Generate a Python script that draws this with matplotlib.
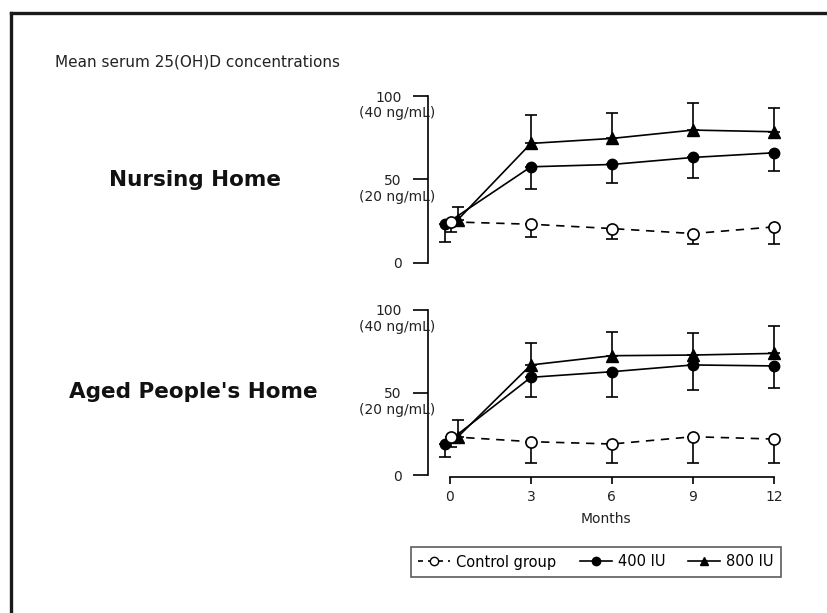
import numpy as np
import matplotlib
matplotlib.use("Agg")
import matplotlib.pyplot as plt
from matplotlib.lines import Line2D

plt.rcParams["font.family"] = ["DejaVu Sans"]

# ---- data -------------------------------------------------------------
months = [0, 3, 6, 9, 12]
month_ticks = [0, 3, 6, 9, 12]
y_ticks = [0, 50, 100]
y_ticklabels = ["0", "50", "100"]
ng_ticks = [50, 100]
ng_labels = ["(20 ng/mL)", "(40 ng/mL)"]

series_names = ["Control group", "400 IU", "800 IU"]

# Nursing Home
nh_control = [24.6, 23.2, 20.6, 17.6, 21.6]
nh_control_err = [6.0, 7.6, 6.0, 6.4, 10.0]
nh_400 = [23.2, 57.6, 59.0, 63.2, 66.0]
nh_400_err = [10.6, 13.0, 11.4, 12.6, 10.8]
nh_800 = [26.0, 71.6, 74.6, 79.6, 78.6]
nh_800_err = [7.6, 17.0, 15.0, 16.4, 14.0]

# Aged People's Home
ap_control = [23.2, 20.2, 18.8, 23.2, 21.8]
ap_control_err = [6.0, 12.7, 11.3, 15.7, 14.7]
ap_400 = [18.8, 59.2, 62.6, 66.7, 66.1]
ap_400_err = [7.7, 11.7, 15.1, 15.2, 13.6]
ap_800 = [23.2, 66.7, 72.3, 72.7, 73.7]
ap_800_err = [10.1, 13.1, 14.2, 13.2, 16.6]

panel_titles = ["Nursing Home", "Aged People's Home"]

# small horizontal shift of the baseline points so they don't sit on top of each other
baseline_shift = {"Control group": 0.05, "400 IU": -0.17, "800 IU": 0.3}

W, H = 827, 613
fig = plt.figure(figsize=(W / 100, H / 100), dpi=100)

# outer frame (left and top edges)
fig.add_artist(Line2D([10.5 / W, 10.5 / W], [-0.05, 1 - 13 / H], color="#1a1a1a",
                      lw=2.4, transform=fig.transFigure))
fig.add_artist(Line2D([10.5 / W, 1.05], [1 - 13 / H, 1 - 13 / H], color="#1a1a1a",
                      lw=2.4, transform=fig.transFigure))

fig.text(55 / W, 1 - 62 / H, "Mean serum 25(OH)D concentrations", fontsize=11,
         ha="left", va="center", color="#222222")


def xs_for(name):
    x = np.array(months, dtype=float)
    x[0] += baseline_shift[name]
    return x


def draw_panel(ax, ctrl, ctrl_e, d400, d400_e, d800, d800_e, bottom):
    zeros = np.zeros(len(months))
    lw = 1.2
    # 400 IU: filled circles, lower error bars
    ax.errorbar(xs_for("400 IU"), d400, yerr=[d400_e, zeros], color="black", lw=lw,
                marker="o", ms=7.5, mfc="black", mec="black", capsize=4.5,
                elinewidth=lw, capthick=lw, clip_on=False, zorder=3,
                label="400 IU")
    # 800 IU: filled triangles, upper error bars
    ax.errorbar(xs_for("800 IU"), d800, yerr=[zeros, d800_e], color="black", lw=lw,
                marker="^", ms=8, mfc="black", mec="black", capsize=4.5,
                elinewidth=lw, capthick=lw, clip_on=False, zorder=3,
                label="800 IU")
    # control: open circles, dashed line, lower error bars
    eb = ax.errorbar(xs_for("Control group"), ctrl, yerr=[ctrl_e, zeros], color="black",
                     lw=lw, ls=(0, (5, 4)), marker="o", ms=8, mfc="white", mec="black",
                     mew=1.2, capsize=4.5, elinewidth=lw, capthick=lw, clip_on=False,
                     zorder=4, label="Control group")

    ax.set_xlim(-0.81, 12.4)
    ax.set_ylim(-2, 102)
    for s in ["top", "right"]:
        ax.spines[s].set_visible(False)
    ax.spines["left"].set_bounds(0, 100)
    ax.spines["left"].set_linewidth(1.2)
    ax.set_yticks(y_ticks)
    ax.set_yticklabels(y_ticklabels, fontsize=10, color="#222222")
    ax.tick_params(axis="y", length=11, width=1.2, pad=8)
    for v, lab in zip(ng_ticks, ng_labels):
        ax.annotate(lab, xy=(0, v), xycoords=("axes fraction", "data"),
                    xytext=(5, -12.5), textcoords="offset points", ha="right",
                    va="center", fontsize=10, color="#222222")
    if bottom:
        ax.spines["bottom"].set_position(("data", -1.3))
        ax.spines["bottom"].set_bounds(0, 12)
        ax.spines["bottom"].set_linewidth(1.2)
        ax.set_xticks(month_ticks)
        ax.set_xticklabels([str(m) for m in month_ticks], fontsize=10, color="#222222")
        ax.tick_params(axis="x", length=5, width=1.2, pad=4)
        ax.set_xlabel("Months", fontsize=10, color="#222222", labelpad=6)
    else:
        ax.spines["bottom"].set_visible(False)
        ax.set_xticks([])
    return eb


ax1 = fig.add_axes([428 / W, 0.5656, 356.8 / W, 0.2832])
ax2 = fig.add_axes([428 / W, 0.2197, 356.8 / W, 0.2800])
for a in (ax1, ax2):
    a.patch.set_alpha(0)

draw_panel(ax1, nh_control, nh_control_err, nh_400, nh_400_err, nh_800, nh_800_err, False)
draw_panel(ax2, ap_control, ap_control_err, ap_400, ap_400_err, ap_800, ap_800_err, True)

fig.text(195 / W, 1 - 180 / H, panel_titles[0], fontsize=15.5, fontweight="bold",
         ha="center", va="center", color="#111111")
fig.text(193 / W, 1 - 392 / H, panel_titles[1], fontsize=15.5, fontweight="bold",
         ha="center", va="center", color="#111111")

# legend
handles = [
    Line2D([], [], color="black", lw=1.2, ls=(0, (3, 3)), marker="o", ms=6,
           mfc="white", mec="black"),
    Line2D([], [], color="black", lw=1.2, marker="o", ms=6, mfc="black"),
    Line2D([], [], color="black", lw=1.2, marker="^", ms=6, mfc="black"),
]
leg = fig.legend(handles, series_names, loc="center", bbox_to_anchor=(596 / W, 1 - 562 / H),
                 ncol=3, fontsize=10.5, frameon=True, fancybox=False, handlelength=2.2,
                 handletextpad=0.4, columnspacing=1.6, borderpad=0.5)
leg.get_frame().set_edgecolor("#333333")
leg.get_frame().set_linewidth(1.2)

fig.savefig("out.png", dpi=100)
